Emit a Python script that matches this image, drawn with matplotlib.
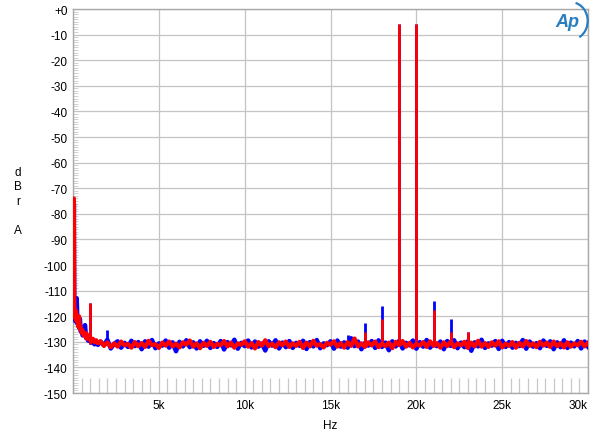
import matplotlib
matplotlib.use("Agg")
import matplotlib.pyplot as plt
import numpy as np
from matplotlib.patches import Arc

plt.rcParams["font.family"] = ["Liberation Sans", "DejaVu Sans"]

# low-frequency skirt (Hz, dBr)
lf_freq = [20, 50, 70, 100, 140, 180, 215, 260, 300, 350, 400, 450, 500, 560,
           620, 700, 760, 810, 870, 940, 1060, 1150, 1250, 1350, 1450]
red_lf = [-116, -74, -112, -119, -121, -118, -122, -121, -124, -120, -125,
          -124, -126.5, -125.5, -127.5, -126.5, -128.5, -127, -129, -128.2,
          -129.6, -128.8, -130.2, -129.4, -130.6]
blue_lf = [-118, -76, -113, -120, -122, -119, -113, -123, -121, -124.5, -121,
           -126, -125, -127.5, -126, -123.5, -128.5, -127.5, -129.5, -128.6,
           -130.3, -129, -131, -129.6, -131.2]

# noise floor, 1.6 kHz to 30 kHz in 200 Hz steps
red_floor = [
    -129.8, -131.6, -130.2, -132.1, -130.6, -131.9, -129.9, -131.4, -130.8, -132.3,
    -130.1, -131.7, -130.5, -132.0, -129.6, -131.3, -130.9, -132.4, -130.3, -131.5,
    -129.9, -131.8, -130.7, -132.2, -130.2, -131.1, -129.5, -131.9, -130.6, -132.5,
    -130.4, -131.6, -130.0, -132.0, -130.8, -131.4, -129.7, -131.8, -130.3, -132.3,
    -130.6, -131.2, -129.8, -131.9, -130.5, -132.6, -130.1, -131.5, -129.4, -131.7,
    -130.7, -132.1, -130.2, -131.3, -129.9, -132.0, -130.6, -131.6, -130.0, -132.4,
    -130.3, -131.8, -129.6, -131.5, -130.9, -132.2, -130.4, -131.1, -129.8, -131.9,
    -130.5, -132.3, -130.1, -131.6, -128.7, -131.8, -130.6, -132.0, -130.2, -131.4,
    -129.9, -132.1, -130.7, -131.7, -130.3, -132.5, -130.0, -131.3, -129.7, -131.9,
    -130.4, -132.2, -130.8, -131.5, -130.1, -132.0, -129.8, -131.6, -130.5, -132.3,
    -130.2, -131.7, -129.9, -132.1, -130.6, -131.4, -130.0, -132.4, -130.3, -131.8,
    -129.6, -131.9, -130.5, -132.0, -130.2, -131.5, -129.8, -132.2, -130.7, -131.6,
    -130.1, -132.3, -130.4, -131.8, -129.7, -131.6, -130.6, -132.1, -130.0, -131.5,
    -130.3, -132.0, -129.9, -131.7, -130.5, -132.2, -130.2, -131.9, -130.6, -131.4,
    -130.0, -131.8, -130.4,
]
blue_floor = [
    -129.9, -131.4, -129.2, -132.6, -130.8, -129.8, -132.3, -130.4, -132.0, -129.6,
    -131.7, -130.1, -132.9, -129.8, -131.9, -129.3, -132.5, -130.6, -131.5, -129.5,
    -132.3, -130.2, -133.7, -130.0, -131.8, -129.4, -132.1, -130.2, -132.6, -129.8,
    -131.6, -129.6, -132.4, -130.5, -132.0, -129.7, -133.0, -130.1, -131.4, -129.2,
    -132.7, -130.4, -131.7, -129.5, -132.2, -129.9, -131.9, -130.7, -133.4, -129.8,
    -131.5, -129.4, -132.6, -130.3, -132.1, -129.7, -132.4, -130.4, -131.6, -129.6,
    -132.8, -130.1, -131.8, -129.3, -132.5, -130.6, -131.3, -129.8, -132.7, -129.5,
    -131.9, -130.2, -132.3, -128.6, -131.7, -129.9, -132.9, -130.5, -131.5, -129.7,
    -132.4, -129.4, -132.0, -130.3, -133.3, -129.8, -131.8, -129.6, -132.6, -130.4,
    -131.4, -129.5, -132.7, -130.1, -131.9, -129.3, -132.3, -130.7, -131.7, -129.9,
    -132.9, -129.7, -131.6, -129.4, -132.5, -130.3, -132.1, -129.8, -133.5, -130.2,
    -131.8, -129.2, -132.4, -130.6, -131.5, -129.7, -132.8, -129.6, -132.0, -130.1,
    -132.3, -130.4, -131.7, -129.3, -132.7, -129.9, -131.9, -130.5, -132.5, -129.5,
    -131.6, -129.8, -132.9, -130.2, -132.1, -129.4, -132.4, -130.3, -131.8, -129.7,
    -132.6, -129.9, -131.9,
]

# discrete spectral lines
red_spike_freq = [1000, 17000, 18000, 19000, 20000, 21000, 22000, 23000]
red_spike_level = [-115, -126, -121, -6, -6, -117.5, -126, -126]
blue_spike_freq = [1000, 2000, 16000, 17000, 18000, 19000, 20000, 21000, 22000, 23000]
blue_spike_level = [-115, -125.5, -127.5, -122.5, -116, -6, -6, -114, -121, -126]
spike_base = -131

red_x = np.concatenate([lf_freq, np.linspace(1600, 30000, len(red_floor))])
red_y = np.concatenate([red_lf, red_floor])
blue_x = np.concatenate([lf_freq, np.linspace(1600, 30000, len(blue_floor))])
blue_y = np.concatenate([blue_lf, blue_floor])

fig = plt.figure(figsize=(6.0, 4.39), dpi=100)
ax = fig.add_axes([0.1217, 0.1025, 0.8583, 0.8747])

ax.plot(blue_x, blue_y, color="#0000ff", lw=3.2, zorder=3)
ax.vlines(blue_spike_freq, spike_base, blue_spike_level, color="#0000ff", lw=2, zorder=3)
ax.plot(red_x, red_y, color="#ff0000", lw=3.0, zorder=4)
ax.vlines(red_spike_freq, spike_base, red_spike_level, color="#ff0000", lw=2, zorder=4)

ax.set_xlim(0, 30000)
ax.set_ylim(-150, 0)
ax.set_xticks(np.arange(5000, 30001, 5000))
ax.set_xticklabels(["5k", "10k", "15k", "20k", "25k", "30k"])
ax.set_xticks(np.arange(0, 30001, 500), minor=True)
ax.set_yticks(np.arange(-150, 1, 10))
ax.set_yticklabels([str(v) if v < 0 else "+0" for v in range(-150, 1, 10)])
ax.set_yticks(np.arange(-150, 1, 1), minor=True)

ax.grid(True, which="major", color="#c4c4c4", lw=0.9)
ax.tick_params(which="major", length=0, labelsize=8.5, pad=4, colors="#000000")
ax.tick_params(axis="x", which="minor", direction="in", length=10.5,
               color="#c8c8c8", width=0.9)
ax.tick_params(axis="y", which="minor", direction="in", length=3.5,
               color="#d0d0d0", width=0.7)
ax.get_xticklabels()[-1].set_ha("right")
for s in ax.spines.values():
    s.set_color("#a8a8a8")
    s.set_linewidth(1.0)

ax.set_xlabel("Hz", fontsize=8.5, labelpad=6)
fig.text(0.03, 0.54, "d\nB\nr\n\nA", fontsize=8.5, ha="center", va="center",
         linespacing=1.3)

# Audio Precision logo
fig.text(0.945, 0.948, "Ap", fontsize=13, fontstyle="italic", fontweight="bold",
         color="#2a7ec0", ha="center", va="center")
fig.patches.append(Arc((0.952, 0.95), 0.055, 0.085, theta1=-70, theta2=80,
                       transform=fig.transFigure, color="#2a7ec0", lw=1.6))

fig.savefig("out.png", dpi=100)
